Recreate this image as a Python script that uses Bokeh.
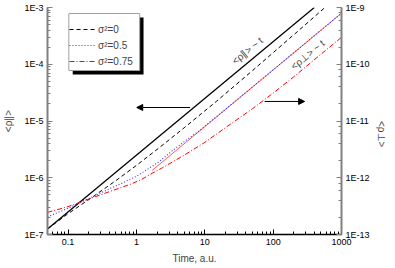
import math
import numpy as np
from bokeh.plotting import figure
from bokeh.models import (LogAxis, Range1d, LogScale, CustomJSTickFormatter, Legend, LegendItem,
                          Arrow, NormalHead, Label, BoxAnnotation)
from bokeh.embed import file_html
from bokeh.resources import INLINE

# ---- data ----
# guide line  <rho_par> ~ t  (left axis)
t_fit_par = [0.05, 400]
rho_fit_par = [1.25e-7, 1.0e-3]
# sigma^2 = 0  (left axis)
t_s0 = [0.05, 0.1, 0.2, 0.5, 1, 2, 5, 15, 50, 200, 600]
rho_s0 = [1.25e-7, 2.33e-7, 4.1e-7, 8.9e-7, 1.65e-6, 3.15e-6, 7.6e-6, 2.25e-5, 7.75e-5, 3.3e-4, 1.05e-3]
# sigma^2 = 0.5  (right axis)
t_s05 = [0.05, 0.1, 0.2, 0.42, 1.0, 2.13, 3.3, 5.1, 8, 20, 100, 1000]
rho_s05 = [2.05e-13, 2.9e-13, 4.3e-13, 6.5e-13, 1.06e-12, 1.9e-12, 2.95e-12, 4.4e-12, 6.5e-12,
           1.6e-11, 7.95e-11, 7.95e-10]
# sigma^2 = 0.75  (right axis)
t_s075 = [0.05, 0.1, 0.2, 0.42, 0.8, 1.2, 1.7, 2.4, 5, 10, 20, 50, 100, 200, 500, 1000]
rho_s075 = [2.45e-13, 3.1e-13, 4.2e-13, 5.8e-13, 7.6e-13, 9.4e-13, 1.2e-12, 1.5e-12, 2.5e-12,
            4.2e-12, 7.6e-12, 1.65e-11, 3.1e-11, 6.0e-11, 1.5e-10, 2.98e-10]
# guide line  <rho_perp> ~ t  (right axis)
t_fit_perp = [1.7, 1000]
rho_fit_perp = [1.35e-12, 7.95e-10]

legend_labels = ["\u03c3\u00b2=0", "\u03c3\u00b2=0.5", "\u03c3\u00b2=0.75"]
x_label = "Time, a.u."
y_label_left = "<\u03c1\u2225>"
y_label_right = "<\u03c1\u22a5>"
note_par = "<\u03c1\u2225> ~ t"
note_perp = "<\u03c1\u22a5> ~ t"

FONT = "Liberation Sans"

p = figure(width=395, height=268, x_axis_type="log", y_axis_type="log",
           x_range=Range1d(0.05, 1000), y_range=Range1d(1e-7, 1e-3),
           output_backend="svg", toolbar_location=None,
           min_border_left=43, min_border_right=49, min_border_top=7, min_border_bottom=34)
p.extra_y_ranges = {"perp": Range1d(1e-13, 1e-9)}
p.extra_y_scales = {"perp": LogScale()}
p.outline_line_color = None
p.grid.visible = False
p.background_fill_color = "white"
p.border_fill_color = "white"

right_axis = LogAxis(y_range_name="perp")
p.add_layout(right_axis, "right")

yfmt = CustomJSTickFormatter(code="return '1E' + Math.round(Math.log10(tick));")
xfmt = CustomJSTickFormatter(code="return String(Number(tick.toPrecision(3)));")

def style_axis(ax, color, width, label_standoff):
    ax.axis_line_color = color
    ax.axis_line_width = width
    ax.major_tick_line_color = color
    ax.minor_tick_line_color = color
    ax.major_tick_in = 5
    ax.major_tick_out = 0
    ax.minor_tick_in = 3
    ax.minor_tick_out = 0
    ax.major_label_text_font = FONT
    ax.major_label_text_font_size = "9px"
    ax.major_label_text_color = "black"
    ax.major_label_standoff = 4
    ax.axis_label_text_font = FONT
    ax.axis_label_text_font_size = "10px"
    ax.axis_label_text_font_style = "normal"
    ax.axis_label_standoff = label_standoff

style_axis(p.xaxis[0], "black", 1.5, 5)
p.xaxis[0].formatter = xfmt
p.xaxis[0].axis_label = x_label
style_axis(p.yaxis[0], "#808080", 2, 7)
p.yaxis[0].formatter = yfmt
p.yaxis[0].axis_label = y_label_left
style_axis(right_axis, "#808080", 2, 9)
right_axis.formatter = yfmt
right_axis.axis_label = y_label_right
right_axis.axis_label_orientation = -math.pi / 2

# lines
r_fit_par = p.line(t_fit_par, rho_fit_par, line_color="black", line_width=1.3)
r0 = p.line(t_s0, rho_s0, line_color="black", line_width=1, line_dash="4 3")
r_fit_perp = p.line(t_fit_perp, rho_fit_perp, line_color="#ff3030", line_width=0.8, y_range_name="perp")
r05 = p.line(t_s05, rho_s05, line_color="#3030ff", line_width=1.1, line_dash="1 2", y_range_name="perp")
r075 = p.line(t_s075, rho_s075, line_color="#ff0000", line_width=1, line_dash="5 2 1 2", y_range_name="perp")

# arrows
p.add_layout(Arrow(x_start=6.1, x_end=1.01, y_start=1.73e-5, y_end=1.73e-5, line_color="black", line_width=1,
                   end=NormalHead(size=6, fill_color="black", line_color="black")))
p.add_layout(Arrow(x_start=75, x_end=289, y_start=2.21e-5, y_end=2.21e-5, line_color="black", line_width=1,
                   end=NormalHead(size=6, fill_color="black", line_color="black")))

# notes
p.add_layout(Label(x=42, y=1.73e-4, text=note_par, angle=0.69, text_align="center", text_baseline="middle",
                   text_font=FONT, text_font_size="10px"))
p.add_layout(Label(x=319, y=1.47e-4, text=note_perp, angle=0.69, text_align="center", text_baseline="middle",
                   text_font=FONT, text_font_size="10px"))

# legend frame: shadow + white box
p.add_layout(BoxAnnotation(left=0.117, right=1.27, top=6.66e-4, bottom=6.59e-5, fill_color="black",
                           fill_alpha=1, line_color="black", line_alpha=1, line_width=0))
p.add_layout(BoxAnnotation(left=0.1026, right=1.116, top=7.84e-4, bottom=7.76e-5, fill_color="white",
                           fill_alpha=1, line_color="#a0a0a0", line_alpha=1, line_width=1))

legend = Legend(items=[LegendItem(label=legend_labels[0], renderers=[r0]),
                       LegendItem(label=legend_labels[1], renderers=[r05]),
                       LegendItem(label=legend_labels[2], renderers=[r075])],
                location=(22, 165))
legend.label_text_font = FONT
legend.label_text_font_size = "10px"
legend.glyph_width = 26
legend.glyph_height = 16
legend.label_height = 16
legend.label_standoff = 3
legend.spacing = 0
legend.padding = 4
legend.margin = 0
legend.border_line_color = None
legend.background_fill_alpha = 0
p.add_layout(legend, "center")

open("out.html", "w").write(file_html(p, INLINE))
